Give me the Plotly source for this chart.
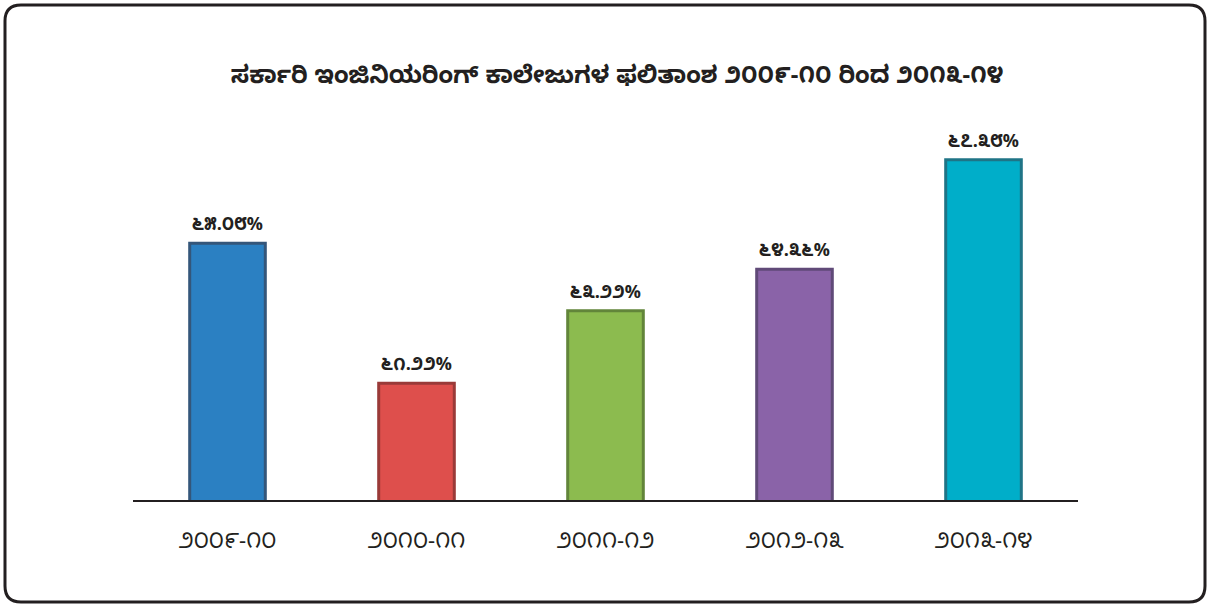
"""ಸರ್ಕಾರಿ ಇಂಜಿನಿಯರಿಂಗ್ ಕಾಲೇಜುಗಳ ಫಲಿತಾಂಶ — ಬಾರ್ ಚಾರ್ಟ್ (plotly)."""
import plotly.graph_objects as go

title = "ಸರ್ಕಾರಿ ಇಂಜಿನಿಯರಿಂಗ್ ಕಾಲೇಜುಗಳ ಫಲಿತಾಂಶ ೨೦೦೯-೧೦ ರಿಂದ ೨೦೧೩-೧೪"
years = ["೨೦೦೯-೧೦", "೨೦೧೦-೧೧", "೨೦೧೧-೧೨", "೨೦೧೨-೧೩", "೨೦೧೩-೧೪"]
results = [65.08, 61.22, 63.22, 64.36, 67.38]
result_labels = ["೬೫.೦೮%", "೬೧.೨೨%", "೬೩.೨೨%", "೬೪.೩೬%", "೬೭.೩೮%"]
colors = ["#2b80c2", "#de4f4c", "#8cbb4f", "#8a63a8", "#00aec9"]
edge_colors = ["#34567a", "#9a3a38", "#62853a", "#604a78", "#1f7486"]

W, H = 1210, 607
L, R, T, B = 133, 132, 130, 107

KN_FONT = "Noto Sans Kannada, Noto Sans, DejaVu Sans, sans-serif"

fig = go.Figure()
fig.add_trace(go.Bar(
    x=years, y=results,
    width=0.40,
    marker={"color": colors, "line": {"color": edge_colors, "width": 3}},
    text=[f"<b>{t}</b>" for t in result_labels],
    textposition="outside",
    textfont={"size": 18, "color": "#231f20", "family": KN_FONT},
    cliponaxis=False,
    hoverinfo="skip",
))


def px(x, y):
    # 像素坐标 -> paper 坐标
    pw, ph = W - L - R, H - T - B
    return (x - L) / pw, 1 - (y - T) / ph


# 外框圆角矩形
x0, y0, x1, y1, r = 5, 5, 1205, 602, 16
pts = [
    ("M", x0 + r, y0), ("L", x1 - r, y0), ("Q", x1, y0, x1, y0 + r),
    ("L", x1, y1 - r), ("Q", x1, y1, x1 - r, y1),
    ("L", x0 + r, y1), ("Q", x0, y1, x0, y1 - r),
    ("L", x0, y0 + r), ("Q", x0, y0, x0 + r, y0),
]
path = ""
for p in pts:
    cmd, coords = p[0], p[1:]
    segs = []
    for i in range(0, len(coords), 2):
        a, b = px(coords[i], coords[i + 1])
        segs.append(f"{a:.5f},{b:.5f}")
    path += cmd + " ".join(segs) + " "
path += "Z"

fig.add_shape(type="path", path=path, xref="paper", yref="paper",
              line={"color": "#231f20", "width": 3}, layer="above")

fig.update_layout(
    width=W, height=H,
    margin={"l": L, "r": R, "t": T, "b": B},
    paper_bgcolor="white", plot_bgcolor="white",
    showlegend=False,
    title={"text": f"<b>{title}</b>", "x": 0.51, "xanchor": "center",
           "y": 1 - 75 / H, "yanchor": "middle",
           "font": {"size": 24, "color": "#231f20", "family": KN_FONT}},
    xaxis={"showline": True, "linecolor": "#231f20", "linewidth": 2,
           "ticks": "outside", "ticklen": 20, "tickcolor": "rgba(0,0,0,0)",
           "showgrid": False,
           "tickfont": {"size": 22, "color": "#231f20", "family": KN_FONT}},
    yaxis={"range": [58, 68.2], "visible": False, "showgrid": False},
)

# 去掉页面默认 body 边距，让图从 (0,0) 开始
fig.write_html("out.html", config={"displayModeBar": False},
               post_script="document.body.style.margin='0';")
